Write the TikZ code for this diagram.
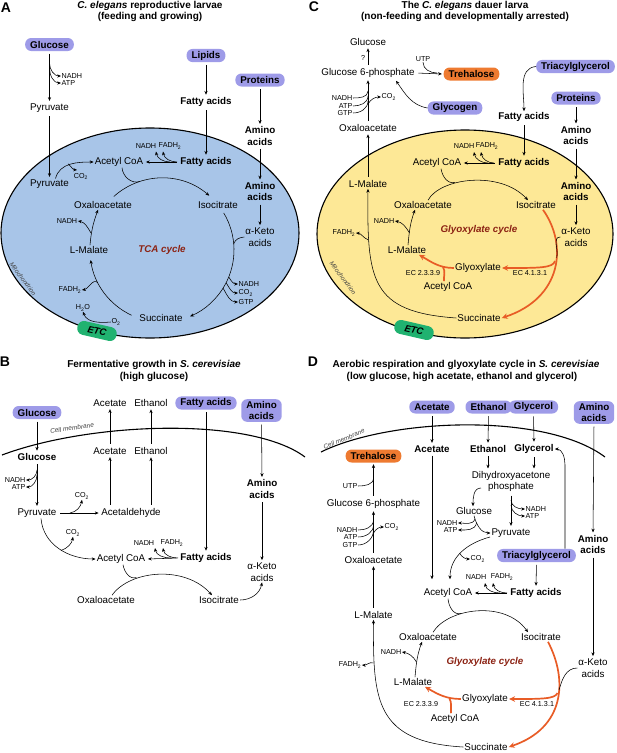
\documentclass[tikz,border=0pt]{standalone}
\usepackage{fontspec}
\setmainfont{Liberation Sans}
\usetikzlibrary{arrows.meta,calc}
\definecolor{purp}{RGB}{158,155,232}
\definecolor{orng}{RGB}{238,122,48}
\definecolor{oline}{RGB}{232,92,38}
\definecolor{blueA}{RGB}{168,197,232}
\definecolor{yelC}{RGB}{253,232,150}
\definecolor{grn}{RGB}{32,178,112}
\definecolor{dred}{RGB}{140,35,20}
\tikzset{
  lab/.style={font=\fontsize{9.8}{11.5}\selectfont, inner sep=1pt, align=center},
  blab/.style={font=\fontsize{9.8}{11.5}\selectfont\bfseries, inner sep=1pt, align=center},
  sm/.style={font=\fontsize{7.2}{8}\selectfont, inner sep=0.5pt},
  pbox/.style={fill=purp, rounded corners=6pt, font=\fontsize{9.8}{11.5}\selectfont\bfseries, inner xsep=5pt, inner ysep=2pt, minimum height=13pt, align=center},
  obox/.style={pbox, fill=orng},
  etcbox/.style={fill=grn, rounded corners=6.5pt, font=\fontsize{9.5}{11}\selectfont\bfseries\itshape, minimum width=40pt, minimum height=14pt, inner sep=1pt},
  ttl/.style={font=\fontsize{10}{12}\selectfont\bfseries, inner sep=0pt},
  plab/.style={font=\fontsize{14}{14}\selectfont\bfseries, inner sep=0pt},
  mito/.style={font=\fontsize{6.3}{7}\selectfont\itshape, inner sep=0pt, text=black!75},
  memb/.style={font=\fontsize{6.5}{7}\selectfont\itshape, inner sep=0pt, text=black!75},
  cyc/.style={font=\fontsize{9.8}{11}\selectfont\bfseries\itshape, text=dred, inner sep=0pt},
  arr/.style={-{Stealth[length=3.8pt,width=3.2pt]}, line width=0.55pt},
  ln/.style={line width=0.55pt},
  gap/.style={shorten <=2.5pt, shorten >=1.5pt},
  oarr/.style={-{Stealth[length=6pt,width=5.5pt]}, line width=1.7pt, draw=oline},
  oln/.style={line width=1.7pt, draw=oline},
}
\begin{document}
\begin{tikzpicture}[x=1pt,y=1pt]
\useasboundingbox (0,0) rectangle (617,-753);

%%%%%%%%%%%%%%%% Panel A
\draw[fill=blueA,line width=1.1pt] (150,-233) ellipse [x radius=149,y radius=105];
\node[plab] (Aplab) at (6,-8) {A};
\node[ttl] (Atitle1) at (150,-6) {\textit{C. elegans} reproductive larvae};
\node[ttl] (Atitle2) at (150,-17) {(feeding and growing)};
\node[pbox] (Aglc) at (49.5,-44.5) {Glucose};
\node[sm,anchor=west] (ANADH1) at (61,-76) {NADH};
\node[sm,anchor=west] (AATP1) at (61,-83) {ATP};
\node[lab] (Apyr1) at (49.5,-108) {Pyruvate};
\node[pbox] (Alip) at (206,-55.5) {Lipids};
\node[blab] (Afa1) at (206,-102) {Fatty acids};
\node[pbox] (Apro) at (260,-80) {Proteins};
\node[blab] (Aaa1) at (260,-136) {Amino\\acids};
\node[lab] (Apyr2) at (49.5,-184) {Pyruvate};
\node[sm] (ACO2) at (81,-176.5) {CO\textsubscript{2}};
\node[lab] (Aacc) at (119,-162) {Acetyl CoA};
\node[blab] (Afa2) at (206,-162) {Fatty acids};
\node[sm] (ANADH2) at (146,-146) {NADH};
\node[sm] (AFADH2) at (170,-146) {FADH\textsubscript{2}};
\node[blab] (Aaa2) at (260,-191.5) {Amino\\acids};
\node[lab] (Aket) at (260,-237) {α-Keto\\acids};
\node[lab] (Aoxa) at (103,-205) {Oxaloacetate};
\node[lab] (Aiso) at (218,-205) {Isocitrate};
\node[sm] (ANADH3) at (67,-221) {NADH};
\node[lab] (Amal) at (89,-250) {L-Malate};
\node[cyc] (Atca) at (162,-250) {TCA cycle};
\node[sm] (AFADH3) at (70,-290) {FADH\textsubscript{2}};
\node[sm,anchor=west] (ANADH4) at (238,-284) {NADH};
\node[sm,anchor=west] (ACO24) at (238,-293) {CO\textsubscript{2}};
\node[sm,anchor=west] (AGTP4) at (238,-302) {GTP};
\node[sm] (AH2O) at (83,-308) {H\textsubscript{2}O};
\node[sm] (AO2) at (116,-322) {O\textsubscript{2}};
\node[lab] (Asuc) at (161,-318) {Succinate};
\node[etcbox, rotate=-13] (AETC) at (97,-331) {ETC};
\node[mito, rotate=-53] (Amito) at (23,-279) {Mitochondrion};
\coordinate (Acen) at (162,-250);

\draw[arr,gap] (Aglc.south) -- (Apyr1.north);
\draw[arr] (49.5,-63) to[out=-90,in=180] (ANADH1.west);
\draw[arr] (49.5,-68) to[out=-90,in=180] (AATP1.west);
\draw[arr,gap] (Apyr1.south) -- (Apyr2.north);
\draw[arr] ($(Apyr2.north)+(6,0)$) to[out=75,in=180] (Aacc.west);
\draw[arr] (68,-163.8) to[out=-40,in=175] (77,-170);
\draw[arr,gap] (Alip.south) -- (Afa1.north);
\draw[arr,gap] (Afa1.south) -- (Afa2.north);
\draw[arr,gap] (Apro.south) -- (Aaa1.north);
\draw[arr,gap] (Aaa1.south) -- (Aaa2.north);
\draw[arr,gap] (Aaa2.south) -- (Aket.north);
\draw[arr,gap] (Afa2.west) -- (Aacc.east);
\draw[arr] (170,-162) to[out=180,in=-80] (156,-151.5);
\draw[arr] (177,-162) to[out=180,in=-80] (163,-151.5);
\draw[arr] ($(Acen)+(132:72)$) arc[start angle=132, end angle=49, radius=72];
\draw[arr] ($(Acen)+(31:72)$) arc[start angle=31, end angle=-67, radius=72];
\draw[arr] ($(Acen)+(245:72)$) arc[start angle=245, end angle=188, radius=72];
\draw[ln] ($(Aacc.south)+(3,0)$) to[out=-85,in=198] ($(Acen)+(108:72)$);
\draw[arr] ($(Amal.north)+(1,0)$) to[out=85,in=-110] ($(Aoxa.south)+(-5,0)$);
\draw[arr] (91,-233) to[out=120,in=-10] (ANADH3.east);
\draw[arr] ($(Acen)+(207:72)$) to[out=135,in=10] (AFADH3.east);
\draw[arr] ($(Acen)+(-22:72)$) to[out=-60,in=180] (ANADH4.west);
\draw[arr] ($(Acen)+(-27:72)$) to[out=-60,in=180] (ACO24.west);
\draw[arr] ($(Acen)+(-32:72)$) to[out=-60,in=180] (AGTP4.west);
\draw[ln] (Aket.west) to[out=185,in=70] ($(Acen)+(5:72)$);
\draw[arr] (AO2.west) to[out=185,in=-70] (AH2O.south);

%%%%%%%%%%%%%%%% Panel B
\node[plab] (Bplab) at (5,-362) {B};
\node[ttl] (Btitle1) at (154,-365) {Fermentative growth in \textit{S. cerevisiae}};
\node[ttl] (Btitle2) at (154,-377) {(high glucose)};
\draw[line width=1.1pt] (2,-455) .. controls (90,-422) and (250,-416) .. (305,-457);
\node[memb, rotate=8] (Bmemb) at (72,-428) {Cell membrane};
\node[pbox] (Bglc1) at (37,-412.5) {Glucose};
\node[lab] (Bace1) at (110,-403) {Acetate};
\node[lab] (Beth1) at (151,-403) {Ethanol};
\node[pbox] (Bfa1) at (206,-403) {Fatty acids};
\node[pbox] (Baa1) at (261.5,-410.5) {Amino\\acids};
\node[blab] (Bglc2) at (37,-457) {Glucose};
\node[lab] (Bace2) at (110,-451) {Acetate};
\node[lab] (Beth2) at (151,-451) {Ethanol};
\node[sm,anchor=east] (BNADH1) at (26,-480) {NADH};
\node[sm,anchor=east] (BATP1) at (26,-487) {ATP};
\node[lab] (Bpyr) at (37,-513) {Pyruvate};
\node[sm] (BCO21) at (82,-496) {CO\textsubscript{2}};
\node[lab] (Bald) at (131,-513) {Acetaldehyde};
\node[blab] (Baa2) at (262,-489) {Amino\\acids};
\node[sm] (BCO22) at (73,-533) {CO\textsubscript{2}};
\node[sm] (BNADH2) at (144,-543) {NADH};
\node[sm] (BFADH2) at (172,-543) {FADH\textsubscript{2}};
\node[lab] (Bacc) at (121,-559) {Acetyl CoA};
\node[blab] (Bfa2) at (206,-558) {Fatty acids};
\node[lab] (Bket) at (262,-572) {α-Keto\\acids};
\node[lab] (Boxa) at (106,-600) {Oxaloacetate};
\node[lab] (Biso) at (219,-600) {Isocitrate};

\draw[arr,gap] (Bglc1.south) -- (Bglc2.north);
\draw[arr,gap] (Bglc2.south) -- (Bpyr.north);
\draw[arr] (37,-470) to[out=-90,in=0] (BNADH1.east);
\draw[arr] (37,-475) to[out=-90,in=0] (BATP1.east);
\draw[arr,gap] (Bpyr.east) -- (Bald.west);
\draw[arr] (70,-513) to[out=10,in=-100] (BCO21.south);
\draw[arr,gap] (Bald.north -| Bace2.south) -- (Bace2.south);
\draw[arr,gap] (Bald.north -| Beth2.south) -- (Beth2.south);
\draw[arr,gap] (Bace2.north) -- (Bace1.south);
\draw[arr,gap] (Beth2.north) -- (Beth1.south);
\draw[arr,gap] (Bfa1.south) -- (Bfa2.north);
\draw[arr,gap] (Baa1.south) -- (Baa2.north);
\draw[arr,gap] (Baa2.south) -- (Bket.north);
\draw[arr] ($(Bpyr.south)+(4,0)$) to[out=-85,in=180] (Bacc.west);
\draw[arr] (61,-550.5) to[out=20,in=-100] (BCO22.south);
\draw[arr,gap] (Bfa2.west) -- (Bacc.east);
\draw[arr] (171,-558) to[out=180,in=-80] (155,-548);
\draw[arr] (178,-558) to[out=180,in=-80] (163,-548);
\draw[arr] ($(Boxa.north)+(6,0)$) .. controls (130,-570) and (185,-565) .. ($(Biso.north)+(-7,0)$);
\draw[ln] ($(Bacc.south)+(2,0)$) to[out=-80,in=198] (136.4,-577.5);
\draw[arr] (Biso.east) to[out=0,in=-100] (Bket.south);

%%%%%%%%%%%%%%%% Panel C
\draw[fill=yelC,line width=1.1pt] (465,-234) ellipse [x radius=148,y radius=104];
\node[plab] (Cplab) at (314,-7) {C};
\node[ttl] (Ctitle1) at (465,-6) {The \textit{C. elegans} dauer larva};
\node[ttl] (Ctitle2) at (465,-17) {(non-feeding and developmentally arrested)};
\node[lab] (Cglc) at (368,-42) {Glucose};
\node[sm] (Cq) at (363,-58) {?};
\node[lab] (Cg6p) at (368,-73) {Glucose 6-phosphate};
\node[sm] (CUTP) at (423,-59) {UTP};
\node[obox] (Ctre) at (471.5,-74) {Trehalose};
\node[sm,anchor=east] (CNADH1) at (353,-98) {NADH};
\node[sm,anchor=east] (CATP1) at (353,-106) {ATP};
\node[sm,anchor=east] (CGTP1) at (353,-113) {GTP};
\node[sm,anchor=west] (CCO21) at (381,-97) {CO\textsubscript{2}};
\node[lab] (Coxa1) at (368,-128) {Oxaloacetate};
\node[pbox] (Cgly) at (455,-108) {Glycogen};
\node[pbox] (Ctag) at (575.5,-66.5) {Triacylglycerol};
\node[blab] (Cfa1) at (524,-117) {Fatty acids};
\node[pbox] (Cpro) at (576,-98) {Proteins};
\node[blab] (Caa1) at (576,-135.5) {Amino\\acids};
\node[blab] (Cfa2) at (524,-163) {Fatty acids};
\node[lab] (Cacc) at (437,-163) {Acetyl CoA};
\node[sm] (CNADH2) at (464,-146) {NADH};
\node[sm] (CFADH2) at (487,-146) {FADH\textsubscript{2}};
\node[lab] (Cmal1) at (368,-184) {L-Malate};
\node[blab] (Caa2) at (576,-191.5) {Amino\\acids};
\node[lab] (Cket) at (576,-237) {α-Keto\\acids};
\node[lab] (Coxa2) at (423,-205) {Oxaloacetate};
\node[lab] (Ciso) at (536,-205) {Isocitrate};
\node[cyc] (Ccyc) at (479,-230) {Glyoxylate cycle};
\node[sm] (CNADH3) at (384,-221) {NADH};
\node[sm] (CFADH3) at (344,-233) {FADH\textsubscript{2}};
\node[lab] (Cmal2) at (407,-250) {L-Malate};
\node[lab] (Cglx) at (478,-268) {Glyoxylate};
\node[lab] (Cacc2) at (448,-287) {Acetyl CoA};
\node[sm] (CEC1) at (423,-273) {EC 2.3.3.9};
\node[sm] (CEC2) at (530,-273) {EC 4.1.3.1};
\node[lab] (Csuc) at (479,-318) {Succinate};
\node[etcbox, rotate=-13] (CETC) at (414,-330) {ETC};
\node[mito, rotate=-53] (Cmito) at (343,-278) {Mitochondrion};

\draw[arr,gap] (Cg6p.north) -- (Cglc.south);
\draw[arr,gap] (Cg6p.east) -- (Ctre.west);
\draw[ln] (CUTP.south) to[out=-90,in=180] (437,-73);
\draw[arr,gap] (Coxa1.north) -- (Cg6p.south);
\draw[ln] (CNADH1.east) to[out=0,in=-90] (368,-91);
\draw[ln] (CATP1.east) to[out=0,in=-90] (368,-96);
\draw[ln] (CGTP1.east) to[out=0,in=-90] (368,-101);
\draw[arr] (368,-104) to[out=60,in=180] (CCO21.west);
\draw[arr,gap] (Cmal1.north) -- (Coxa1.south);
\draw[arr] (Cgly.west) to[out=170,in=-55] ($(Cg6p.south)+(28,-2)$);
\draw[arr] (Ctag.west) to[out=185,in=90] (Cfa1.north);
\draw[arr,gap] (Cpro.south) -- (Caa1.north);
\draw[arr,gap] (Caa1.south) -- (Caa2.north);
\draw[arr,gap] (Caa2.south) -- (Cket.north);
\draw[arr,gap] (Cfa1.south) -- (Cfa2.north);
\draw[arr,gap] (Cfa2.west) -- (Cacc.east);
\draw[arr] (488,-163) to[out=180,in=-80] (474,-152);
\draw[arr] (494,-163) to[out=180,in=-80] (481,-152);
\draw[arr] (Csuc.west) .. controls (370,-312) and (367,-280) .. (Cmal1.south);
\draw[arr] (368.5,-240) to[out=160,in=-5] (CFADH3.east);
\draw[arr] ($(Cmal2.north)+(1,0)$) to[out=85,in=-110] ($(Coxa2.south)+(-8,0)$);
\draw[arr] (409.5,-233) to[out=120,in=-10] (CNADH3.east);
\draw[arr] ($(Coxa2.north)+(5,0)$) .. controls (440,-178) and (500,-170) .. ($(Ciso.north)+(-8,0)$);
\draw[ln] ($(Cacc.south)+(4,0)$) to[out=-80,in=194] (454.8,-182.4);
\draw[oarr] ($(Ciso.south)+(7,0)$) .. controls (568,-245) and (562,-298) .. (Csuc.east);
\draw[oarr] (555,-261) .. controls (553,-268) and (540,-268) .. (Cglx.east);
\draw[ln] (Cket.west) to[out=180,in=75] (556.7,-257.6);
\draw[oarr] (Cglx.west) to[out=180,in=-30] ($(Cmal2.south)+(12,0)$);
\draw[oln] ($(Cacc2.north)+(-4,0)$) to[out=95,in=-60] (443,-267);

%%%%%%%%%%%%%%%% Panel D
\node[plab] (Dplab) at (313,-362) {D};
\node[ttl] (Dtitle1) at (466,-365) {Aerobic respiration and glyoxylate cycle in \textit{S. cerevisiae}};
\node[ttl] (Dtitle2) at (462,-377) {(low glucose, high acetate, ethanol and glycerol)};
\draw[line width=1.1pt] (321,-452) .. controls (390,-418) and (545,-412) .. (605,-457);
\node[memb, rotate=23] (Dmemb) at (344,-439) {Cell membrane};
\node[pbox] (Dace1) at (432,-407) {Acetate};
\node[pbox] (Deth1) at (488.5,-407) {Ethanol};
\node[pbox] (Dgly1) at (533.5,-407) {Glycerol};
\node[pbox] (Daa1) at (594,-412.5) {Amino\\acids};
\node[blab] (Dace2) at (432,-449) {Acetate};
\node[blab] (Deth2) at (488,-449) {Ethanol};
\node[blab] (Dgly2) at (534,-449) {Glycerol};
\node[lab] (Ddhap) at (511,-481.5) {Dihydroxyacetone\\phosphate};
\node[lab] (Dglc) at (474,-511) {Glucose};
\node[lab] (Dpyr) at (511,-533) {Pyruvate};
\node[sm,anchor=west] (DNADHa) at (525,-509) {NADH};
\node[sm,anchor=west] (DATPa) at (525,-516) {ATP};
\node[sm,anchor=east] (DNADHb) at (458,-523) {NADH};
\node[sm,anchor=east] (DATPb) at (458,-530) {ATP};
\node[obox] (Dtre) at (373.5,-456) {Trehalose};
\node[sm,anchor=east] (DUTP) at (358,-486) {UTP};
\node[lab] (Dg6p) at (373.5,-504) {Glucose 6-phosphate};
\node[sm,anchor=east] (DNADHc) at (358,-530) {NADH};
\node[sm,anchor=east] (DATPc) at (358,-537) {ATP};
\node[sm,anchor=east] (DGTPc) at (358,-545) {GTP};
\node[sm,anchor=west] (DCO2c) at (384,-527) {CO\textsubscript{2}};
\node[lab] (Doxa1) at (373.5,-560) {Oxaloacetate};
\node[lab] (Dmal1) at (373.5,-615) {L-Malate};
\node[pbox] (Dtag) at (536.5,-555.5) {Triacylglycerol};
\node[blab] (Dfa) at (536,-593) {Fatty acids};
\node[lab] (Dacc) at (448,-593) {Acetyl CoA};
\node[sm] (DNADHd) at (476,-577) {NADH};
\node[sm] (DFADHd) at (502,-577) {FADH\textsubscript{2}};
\node[sm,anchor=west] (DCO2) at (470,-559) {CO\textsubscript{2}};
\node[blab] (Daa2) at (593,-544.5) {Amino\\acids};
\node[lab] (Dket) at (593,-668) {α-Keto\\acids};
\node[lab] (Doxa2) at (428,-637) {Oxaloacetate};
\node[lab] (Diso) at (541,-637) {Isocitrate};
\node[sm] (DNADHe) at (391,-652) {NADH};
\node[cyc] (Dcyc) at (485,-662) {Glyoxylate cycle};
\node[sm] (DFADHe) at (350,-665) {FADH\textsubscript{2}};
\node[lab] (Dmal2) at (413,-682) {L-Malate};
\node[lab] (Dglx) at (485,-699) {Glyoxylate};
\node[sm] (DEC1) at (421,-704) {EC 2.3.3.9};
\node[sm] (DEC2) at (537,-704) {EC 4.1.3.1};
\node[lab] (Dacc2) at (455,-719) {Acetyl CoA};
\node[lab] (Dsuc) at (486,-747) {Succinate};

\draw[arr,gap] (Dace1.south) -- (Dace2.north);
\draw[arr,gap] (Deth1.south) -- (Deth2.north);
\draw[arr,gap] (Dgly1.south) -- (Dgly2.north);
\draw[arr,gap] (Daa1.south) -- (Daa2.north);
\draw[arr,gap] (Daa2.south) -- (Dket.north);
\draw[arr,gap] (Deth2.south) -- (Deth2.south |- Ddhap.north);
\draw[arr,gap] (Dgly2.south) -- (Dgly2.south |- Ddhap.north);
\draw[arr] (481,-488) to[out=180,in=90] ($(Dglc.north)+(-1,0)$);
\draw[arr,gap] (Ddhap.south) -- (Dpyr.north);
\draw[arr] (511,-500) to[out=-90,in=180] (DNADHa.west);
\draw[arr] (511,-505) to[out=-90,in=180] (DATPa.west);
\draw[arr] (Dglc.south) to[out=-75,in=180] (Dpyr.west);
\draw[arr] (475,-519) to[out=-110,in=0] (DNADHb.east);
\draw[arr] (476.5,-523) to[out=-100,in=0] (DATPb.east);
\draw[arr] (490,-537) to[out=195,in=90] ($(Dacc.north)+(2,8)$);
\draw[arr] (459.5,-553) to[out=-60,in=180] (DCO2.west);
\draw[arr] ($(Dace2.south)+(0,-2)$) -- ($(Dacc.north -| Dace2.south)+(0,8)$);
\draw[arr,gap] (Dtag.south) -- (Dfa.north);
\draw[arr,gap] (Dfa.west) -- (Dacc.east);
\draw[arr] (500,-593) to[out=180,in=-80] (485,-583);
\draw[arr] (507,-593) to[out=180,in=-80] (493,-583);
\draw[arr] ($(Dtag.north)+(28.5,0)$) -- ++(0,84) to[out=90,in=0] (Dgly2.east);
\draw[arr,gap] (Dg6p.north) -- (Dtre.south);
\draw[ln] (DUTP.east) to[out=0,in=-90] (373.5,-478);
\draw[arr,gap] (Doxa1.north) -- (Dg6p.south);
\draw[ln] (DNADHc.east) to[out=0,in=-90] (373.5,-520);
\draw[ln] (DATPc.east) to[out=0,in=-90] (373.5,-525);
\draw[ln] (DGTPc.east) to[out=0,in=-90] (373.5,-530);
\draw[arr] (373.5,-533) to[out=60,in=180] (DCO2c.west);
\draw[arr,gap] (Dmal1.north) -- (Doxa1.south);
\draw[arr] (Dsuc.west) .. controls (375,-742) and (373,-700) .. (Dmal1.south);
\draw[arr] (373.7,-663) to[out=160,in=-5] (DFADHe.east);
\draw[arr] ($(Doxa2.north)+(5,0)$) .. controls (448,-608) and (505,-600) .. ($(Diso.north)+(-13,0)$);
\draw[ln] (Dacc.south) to[out=-85,in=195] (460.9,-613.5);
\draw[arr] ($(Dmal2.north)+(2,0)$) to[out=85,in=-110] ($(Doxa2.south)+(-6,0)$);
\draw[arr] (416.5,-662) to[out=120,in=-10] (DNADHe.east);
\draw[oarr] ($(Diso.south)+(7,0)$) .. controls (568,-680) and (565,-728) .. (Dsuc.east);
\draw[oarr] (557.5,-693) .. controls (555,-699) and (542,-699) .. (Dglx.east);
\draw[ln] (Dket.west) to[out=180,in=75] (559,-690.2);
\draw[oarr] (Dglx.west) to[out=180,in=-30] ($(Dmal2.south)+(12,0)$);
\draw[oln] ($(Dacc2.north)+(-4,0)$) to[out=95,in=-60] (449.3,-698.1);
\end{tikzpicture}
\end{document}
